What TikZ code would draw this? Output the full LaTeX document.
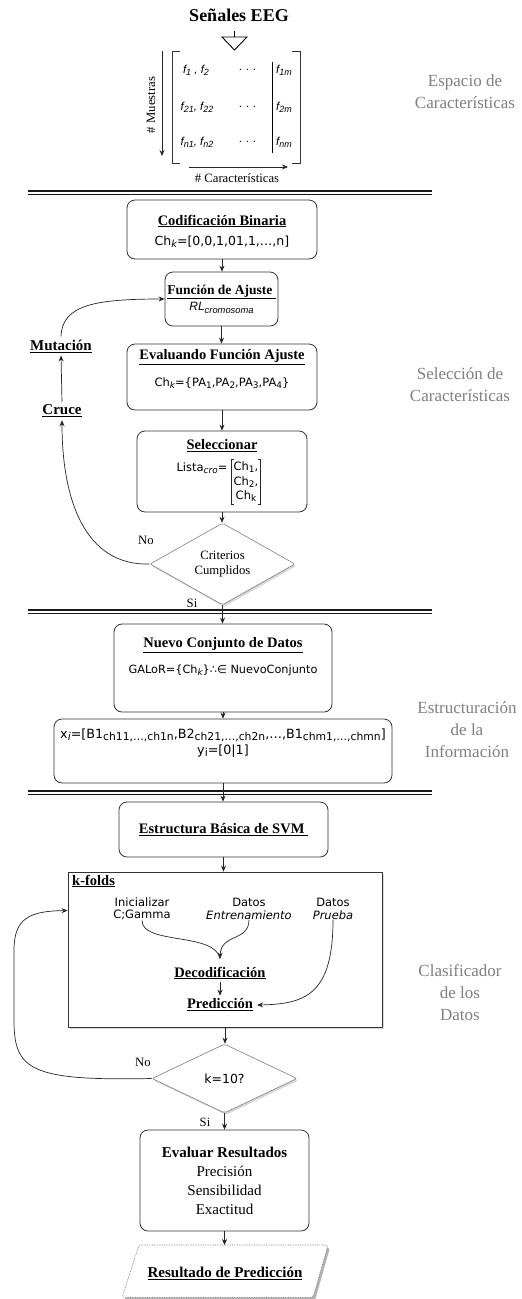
\documentclass[tikz,border=0pt]{standalone}
\usepackage{fontspec}
\setmainfont{Liberation Serif}
\newfontfamily\sansf{DejaVu Sans}
\newfontfamily\arialf{Liberation Sans}
\usetikzlibrary{arrows.meta,shapes.geometric,shadows,calc}
\newcommand\lo[1]{\raisebox{-0.35ex}{\scalebox{0.78}{#1}}}
\newcommand\loo[1]{\raisebox{-0.3ex}{\scalebox{0.85}{#1}}}
\newcommand\fs[2]{\fontsize{#1}{#2}\selectfont}
\begin{document}
\begin{tikzpicture}[x=1pt,y=-1pt,
  box/.style={draw=black!80,line width=0.8pt,rounded corners=8pt,inner sep=0pt,fill=white},
  dec/.style={diamond,draw=black!50,line width=0.6pt,inner sep=0pt,fill=white,align=center,rounded corners=2pt,drop shadow={shadow xshift=1.5pt,shadow yshift=-2pt,opacity=0.3}},
  arr/.style={-{Stealth[length=6pt,width=5pt]},line width=0.7pt,draw=black!85},
  ttl/.style={font=\fs{14.5}{17}\bfseries,inner sep=0pt},
  sfa/.style={font=\sansf\fs{11.5}{14},inner sep=0pt},
  ser/.style={font=\fs{12.7}{15},inner sep=0pt},
  mat/.style={font=\arialf\itshape\fs{11.5}{14},inner sep=0pt},
  glab/.style={text=black!50,align=center,font=\fs{17}{22}},
  sepl/.style={line width=1.1pt,draw=black!90},
  brk/.style={line width=0.7pt,draw=black!85},
]
\fill[white] (0,0) rectangle (522,1299);
\useasboundingbox (0,0) rectangle (522,1299);

% ---------- side labels
\node[glab] (g1) at (465,91.5) {Espacio de\\Características};
\node[glab] (g2) at (460,385) {Selección de\\Características};
\node[glab] (g3) at (467,729.5) {Estructuración\\de la\\Información};
\node[glab] (g4) at (460,992.5) {Clasificador\\de los\\Datos};

% ---------- separators
\foreach \yy in {191,610,791}{
  \draw[sepl] (28,\yy) -- (432,\yy);
  \draw[sepl] (28,\yy+3.8) -- (432,\yy+3.8);
}

% ---------- top: signals and matrix
\node[font=\fs{18}{20}\bfseries,inner sep=0pt] (title) at (239,15) {Señales EEG};
\draw[line width=0.9pt] (234.5,31) -- (234.5,37);
\draw[line width=0.9pt] (222,37) -- (247,37) -- (234.5,50) -- cycle;
\draw[line width=0.8pt,black!80] (180,51) -- (172,51) -- (172,163) -- (180,163);
\draw[line width=0.8pt,black!80] (292,51) -- (300,51) -- (300,163) -- (292,163);
\draw[line width=0.8pt] (272,62) -- (272,153);
\coordinate (mtop) at (162,51);
\coordinate (mbot) at (162,156);
\draw[arr] (mtop) -- (mbot);
\node[ser,rotate=90] (muest) at (151,105) {\# Muestras};
\coordinate (cl) at (189,167);
\coordinate (cr) at (288,167);
\draw[arr] (cl) -- (cr);
\node[ser] (caract) at (237,178) {\# Características};
\node[mat] (m11) at (196,70) {f\lo{1} , f\lo{2}};
\node[mat] (m21) at (197,107) {f\lo{21}, f\lo{22}};
\node[mat] (m31) at (197,142) {f\lo{n1}, f\lo{n2}};
\node[mat] (m12) at (248,70) {.\,\,.\,\,.};
\node[mat] (m22) at (248,107) {.\,\,.\,\,.};
\node[mat] (m32) at (248,142) {.\,\,.\,\,.};
\node[mat] (m13) at (284,70) {f\lo{1m}};
\node[mat] (m23) at (284,107) {f\lo{2m}};
\node[mat] (m33) at (284,142) {f\lo{nm}};

% ---------- selection stage
\node[box,minimum width=190pt,minimum height=59pt] (cod) at (222,229.5) {};
\node[ttl] (codt) at (222,221) {\underline{Codificación Binaria}};
\node[sfa,font=\sansf\fs{12.5}{14}] (cods) at (222,242) {Ch\lo{\itshape k}=[0,0,1,01,1,…,n]};

\node[box,minimum width=113pt,minimum height=54pt] (fa) at (221.5,299) {};
\node[ttl,font=\fs{13.5}{16}\bfseries] (fat) at (221.5,292) {\underline{Función de Ajuste\ }};
\node[mat,font=\arialf\itshape\fs{12}{14}] (fas) at (221.5,308) {RL\lo{cromosoma}};

\node[box,minimum width=190pt,minimum height=66pt] (ev) at (222,377) {};
\node[ttl] (evt) at (222,357) {\underline{Evaluando Función Ajuste}};
\node[sfa] (evs) at (222,383) {Ch\lo{\itshape k}=\{PA\lo{1},PA\lo{2},PA\lo{3},PA\lo{4}\}};

\node[box,minimum width=170pt,minimum height=81pt] (sel) at (222,471.5) {};
\node[ttl] (selt) at (222,446) {\underline{Seleccionar}};
\node[sfa] (lista) at (202,468) {Lista\lo{\itshape cro}=};
\node[sfa,align=center,font=\sansf\fs{11.5}{14.5}] (chs) at (246,482) {Ch\lo{1},\\Ch\lo{2},\\Ch\lo{k}};
\draw[brk] ([xshift=1pt,yshift=2pt]chs.north west) -- ([xshift=-2pt,yshift=2pt]chs.north west) -- ([xshift=-2pt,yshift=-2pt]chs.south west) -- ([xshift=1pt,yshift=-2pt]chs.south west);
\draw[brk] ([xshift=-1pt,yshift=2pt]chs.north east) -- ([xshift=2pt,yshift=2pt]chs.north east) -- ([xshift=2pt,yshift=-2pt]chs.south east) -- ([xshift=-1pt,yshift=-2pt]chs.south east);

\node[dec,minimum width=145pt,minimum height=68pt,font=\fs{12.7}{15}] (crit) at (222.5,564) {Criterios\\Cumplidos};

\node[ttl,font=\fs{15}{17}\bfseries] (cruce) at (62,411) {\underline{Cruce}};
\node[ttl,font=\fs{15}{17}\bfseries] (mut) at (61,346) {\underline{Mutación}};
\node[ser] (no1) at (146,540) {No};
\node[ser] (si1) at (192,603) {Si};

\draw[arr] (cod.south) -- (cod.south |- fa.north);
\draw[arr] (fa.south) -- (fa.south |- ev.north);
\draw[arr] (ev.south) -- (ev.south |- sel.north);
\draw[arr] (sel.south) -- (sel.south |- crit.north);
\draw[arr] (crit.west) .. controls (85,566) and (62,500) .. ([yshift=-3pt]cruce.south);
\draw[arr] ([yshift=3pt]cruce.north) -- ([yshift=-3pt]mut.south);
\draw[arr] ([yshift=3pt]mut.north) .. controls (62,305) and (95,299) .. (fa.west);

% ---------- structuring stage
\node[box,minimum width=218pt,minimum height=88pt] (nc) at (223,668) {};
\node[ttl] (nct) at (223,645) {\underline{Nuevo Conjunto de Datos}};
\node[sfa,font=\sansf\fs{11.3}{14}] (ncs) at (223,670) {GALoR=\{Ch\lo{\itshape k}\}∴∈ NuevoConjunto};
\draw[arr] (crit.south) -- (crit.south |- nc.north);

\node[box,minimum width=338pt,minimum height=64pt] (xi) at (223,751) {};
\node[sfa,font=\sansf\fs{12.7}{14}] (xis) at (223,735) {x\loo{\itshape i}=[B1\loo{ch11,…,ch1n},B2\loo{ch21,…,ch2n},…,B1\loo{chm1,…,chmn}]};
\node[sfa,font=\sansf\fs{12.7}{14}] (yis) at (223,751) {y\loo{i}=[0|1]};
\draw[arr] (nc.south) -- (nc.south |- xi.north);

% ---------- classifier stage
\node[box,minimum width=209pt,minimum height=55pt] (svm) at (223.5,829.5) {};
\node[ttl] (svmt) at (223.5,829.5) {\underline{Estructura Básica de SVM\ }};
\draw[arr] (xi.south) -- (xi.south |- svm.north);

\node[draw=black!80,line width=0.8pt,fill=white,minimum width=314pt,minimum height=155pt,inner sep=0pt,drop shadow={shadow xshift=2pt,shadow yshift=-2pt,opacity=0.3}] (kf) at (225,949.5) {};
\draw[arr] (svm.south) -- (svm.south |- kf.north);
\node[ttl,anchor=west] (kft) at (72,881) {\underline{k-folds}};
\node[sfa,align=center,font=\sansf\fs{11.5}{12.5}] (ini) at (142,909) {Inicializar\\C;Gamma};
\node[sfa,align=center,font=\sansf\fs{11.5}{12.5}] (ent) at (249,909) {Datos\\\textit{Entrenamiento}};
\node[sfa,align=center,font=\sansf\fs{11.5}{12.5}] (pru) at (333,909) {Datos\\\textit{Prueba}};
\node[ttl] (deco) at (220,973) {\underline{Decodificación}};
\node[ttl] (pred) at (220,1005) {\underline{Predicción}};
\coordinate (merge) at ([yshift=8pt]deco.north);
\draw[line width=0.7pt,black!85] (ini.south) .. controls (142,945) and (215,932) .. (merge);
\draw[arr] (ent.south) .. controls (249,942) and (221,933) .. (merge);
\draw[arr] (pru.south) .. controls (333,995) and (305,1004) .. ([xshift=4pt]pred.east);
\draw[arr] ([yshift=-3pt]deco.south) -- ([yshift=3pt]pred.north);

\node[dec,minimum width=145pt,minimum height=69pt,font=\sansf\fs{12.5}{14}] (k10) at (224.5,1078.5) {k=10?};
\draw[arr] (kf.south) -- (kf.south |- k10.north);
\node[ser] (no2) at (143,1062) {No};
\node[ser] (si2) at (205,1122) {Si};
\coordinate (kfin) at ($(kf.north west)!0.25!(kf.south west)$);
\draw[arr] (k10.west) .. controls (30,1081) and (14,1070) .. (14,1020) -- (14,950) .. controls (14,918) and (30,911) .. (kfin);

\node[box,minimum width=169pt,minimum height=101pt,align=center,font=\fs{15}{19}] (evr) at (224.5,1180.5) {\textbf{Evaluar Resultados}\\Precisión\\Sensibilidad\\Exactitud};
\draw[arr] (k10.south) -- (k10.south |- evr.north);

% ---------- result parallelogram
\fill[black!30,rounded corners=3pt] (141,1247.5) -- (330,1247.5) -- (315,1300.5) -- (124,1300.5) -- cycle;
\draw[fill=white,draw=black!55,densely dotted,line width=0.7pt,rounded corners=3pt] (139,1245) -- (328,1245) -- (313,1297.5) -- (122,1297.5) -- cycle;
\coordinate (ptop) at (224.5,1245);
\node[ttl,font=\fs{15}{17}\bfseries] (res) at (225,1273) {\underline{Resultado de Predicción}};
\draw[arr] (evr.south) -- (ptop);
\end{tikzpicture}
\end{document}
